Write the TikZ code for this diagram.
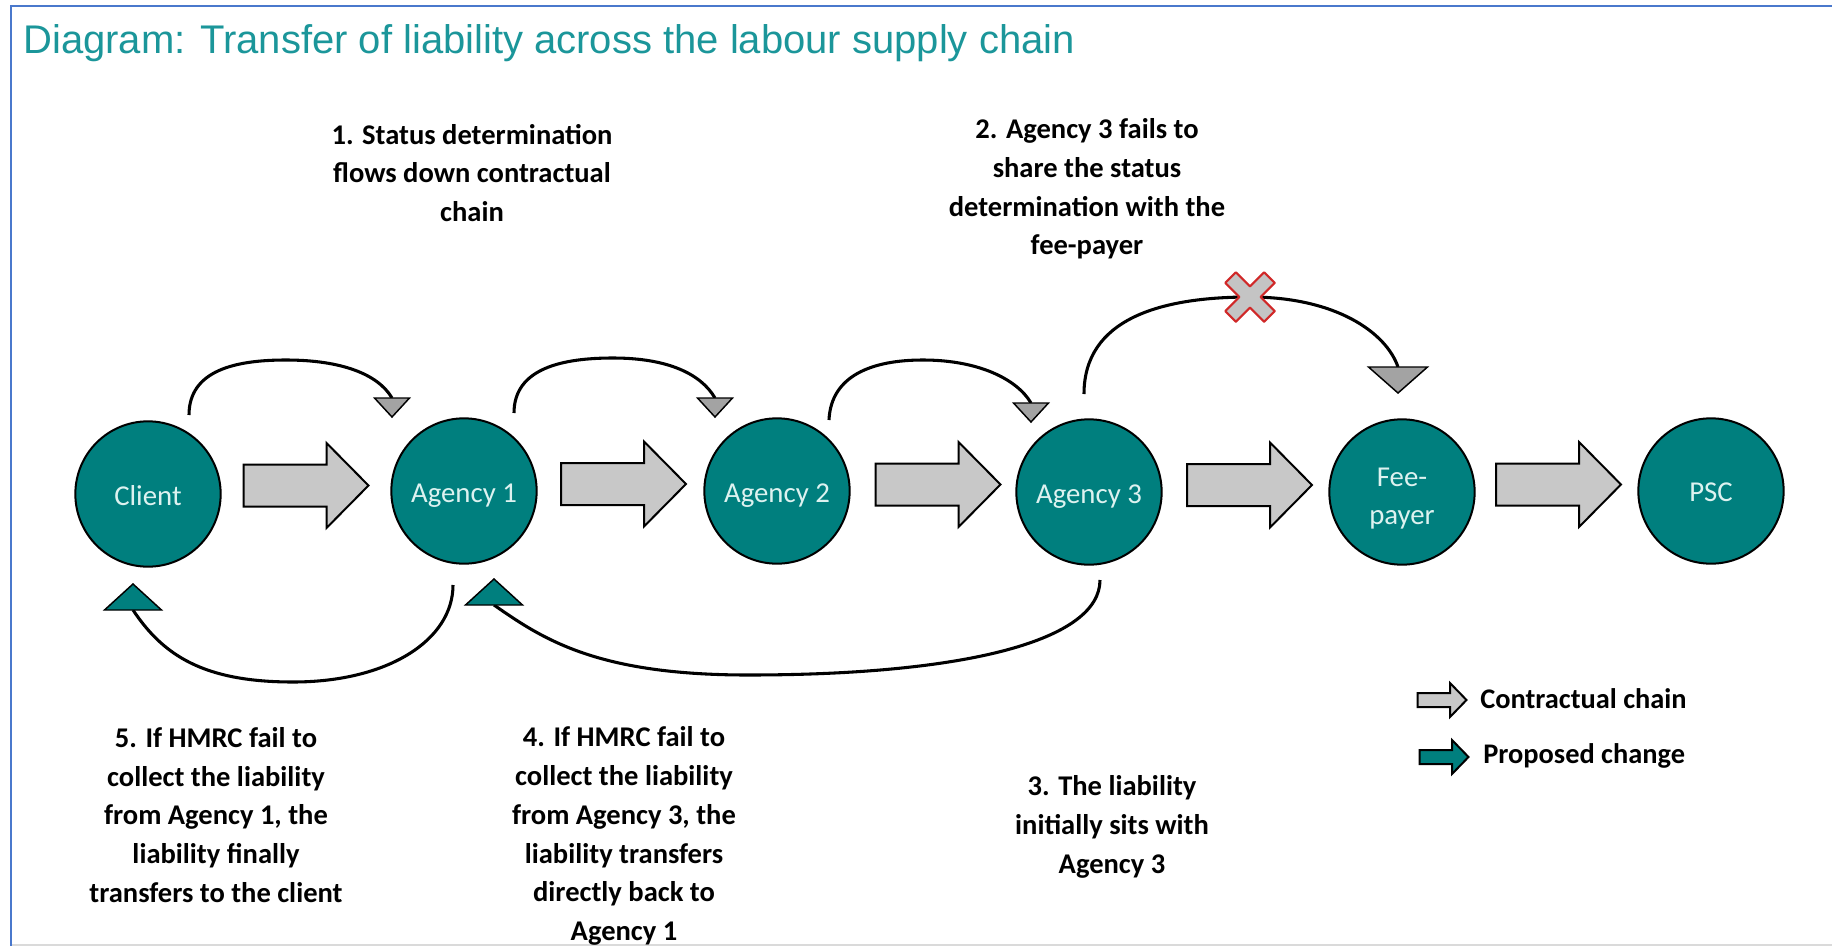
\documentclass[tikz,border=0pt]{standalone}
\usepackage{fontspec}
\setmainfont{Carlito}
\newfontfamily\titlefont{Liberation Sans}
\usetikzlibrary{calc}

\definecolor{tealfill}{HTML}{007F7E}
\definecolor{circtext}{HTML}{DDF2F0}
\definecolor{titleteal}{HTML}{1B969A}
\definecolor{chaingray}{HTML}{C8C8C8}
\definecolor{tipgray}{HTML}{A3A3A3}
\definecolor{xred}{HTML}{D02828}
\definecolor{xgray}{HTML}{C4C4C4}
\definecolor{frameblue}{HTML}{4A78CC}
\definecolor{framegray}{HTML}{DADADA}

\tikzset{
  party/.style={circle, draw=black, line width=1.5pt, fill=tealfill,
    minimum size=109pt, inner sep=0pt},
  partytext/.style={inner sep=0pt, text=circtext, align=center,
    font=\fontsize{21.6pt}{28.6pt}\selectfont},
  note/.style={align=center, inner sep=0pt, text=black,
    font=\bfseries\fontsize{21.4pt}{29.1pt}\selectfont},
  keytext/.style={anchor=west, inner sep=0pt, text=black,
    font=\bfseries\fontsize{21.3pt}{26pt}\selectfont},
  flow/.style={draw=black, line width=2.3pt},
  pics/chainarrow/.style={code={
    \draw[line width=1.5pt, fill=#1, line join=miter]
      (-62.5,-21) -- (20.5,-21) -- (20.5,-42.5) -- (62.5,0) --
      (20.5,42.5) -- (20.5,21) -- (-62.5,21) -- cycle;}},
  pics/keyarrow/.style={code={
    \draw[line width=1.5pt, fill=#1, line join=miter]
      (-24.5,-7) -- (8,-7) -- (8,-17) -- (24.5,0) --
      (8,17) -- (8,7) -- (-24.5,7) -- cycle;}},
  pics/tipdown/.style n args={3}{code={
    \draw[line width=1.1pt, fill=#1, line join=miter]
      (-#2/2,0) -- (#2/2,0) -- (0,#3) -- cycle;}},
  pics/tipup/.style n args={3}{code={
    \draw[line width=1.1pt, fill=#1, line join=miter]
      (-#2/2,0) -- (#2/2,0) -- (0,-#3) -- cycle;}},
  pics/blocked/.style={code={
    \begin{scope}[rotate=45]
      \draw[xred, line width=1.6pt, fill=xgray, line join=round]
        (7.5,27.5) -- (7.5,7.5) -- (27.5,7.5) -- (27.5,-7.5) -- (7.5,-7.5) --
        (7.5,-27.5) -- (-7.5,-27.5) -- (-7.5,-7.5) -- (-27.5,-7.5) --
        (-27.5,7.5) -- (-7.5,7.5) -- (-7.5,27.5) -- cycle;
    \end{scope}}},
}

\begin{document}
\begin{tikzpicture}[x=0.75pt, y=-0.75pt]
  \useasboundingbox (0,0) rectangle (1832,946);

  % frame
  \draw[framegray, line width=1pt] (11,945) -- (1832,945);
  \draw[frameblue, line width=2.2pt] (11,946) -- (11,6) -- (1832,6);

  % title
  \node[anchor=base west, inner sep=0pt, text=titleteal,
        font=\titlefont\fontsize{30pt}{36pt}\selectfont] (title) at (23,53)
    {Diagram: Transfer of liability across the labour supply chain};

  % parties in the supply chain
  \node[party] (client) at (148,494) {};
  \node[party] (a1)     at (464,491) {};
  \node[party] (a2)     at (777,491) {};
  \node[party] (a3)     at (1089,492) {};
  \node[party] (fee)    at (1402,492) {};
  \node[party] (psc)    at (1711,491) {};

  \node[partytext] (clientname) at ($(client)+(0,2)$) {Client};
  \node[partytext] (a1name)     at ($(a1)+(0,5)$)     {Agency 1};
  \node[partytext] (a2name)     at ($(a2)+(0,5)$)     {Agency 2};
  \node[partytext] (a3name)     at ($(a3)+(0,5)$)     {Agency 3};
  \node[partytext] (feename)    at ($(fee)+(0,7)$)    {Fee-\\payer};
  \node[partytext] (pscname)    at ($(psc)+(0,1)$)    {PSC};

  % contractual chain
  \pic at ($(client)!0.5!(a1)+(0,-7)$) {chainarrow=chaingray};
  \pic at ($(a1)!0.5!(a2)+(3,-7)$)     {chainarrow=chaingray};
  \pic at ($(a2)!0.5!(a3)+(5,-7)$)     {chainarrow=chaingray};
  \pic at ($(a3)!0.5!(fee)+(4,-7)$)    {chainarrow=chaingray};
  \pic at ($(fee)!0.5!(psc)+(2,-7)$)   {chainarrow=chaingray};

  % status determination passed down the chain
  \draw[flow] ($(client)+(41,-79)$) .. controls +(0,-45) and +(-50,0) ..
    ($(client)+(138,-134)$) .. controls +(55,0) and +(-14,-24) .. ($(a1)+(-72,-93)$);
  \pic at ($(a1)+(-72,-93)$) {tipdown={tipgray}{35}{19}};

  \draw[flow] ($(a1)+(50,-78)$) .. controls +(0,-45) and +(-50,0) ..
    ($(a1)+(149,-133)$) .. controls +(55,0) and +(-14,-24) .. ($(a2)+(-62,-93)$);
  \pic at ($(a2)+(-62,-93)$) {tipdown={tipgray}{35}{19}};

  \draw[flow] ($(a2)+(52,-71)$) .. controls +(2,-45) and +(-50,0) ..
    ($(a2)+(146,-131)$) .. controls +(55,0) and +(-14,-24) .. ($(a3)+(-58,-89)$);
  \pic at ($(a3)+(-58,-89)$) {tipdown={tipgray}{35}{19}};

  % determination not shared with the fee-payer
  \draw[flow] ($(a3)+(-5,-98)$) .. controls +(0,-75) and +(-90,0) ..
    ($(a3)+(161,-195)$) .. controls +(85,0) and +(-12,-35) .. ($(fee)+(-4,-125)$);
  \pic at ($(fee)+(-4,-125)$) {tipdown={tipgray}{59}{26}};
  \pic at ($(a3)+(161,-195)$) {blocked};

  % liability transfers back up the chain
  \draw[flow] ($(a1)+(-11,94)$) .. controls +(0,55) and +(95,0) ..
    ($(a1)+(-171,191)$) .. controls +(-90,0) and +(30,45) .. ($(client)+(-15,116)$);
  \pic at ($(client)+(-15,116)$) {tipup={tealfill}{57}{26}};

  \draw[flow] ($(a3)+(11,88)$) .. controls +(0,60) and +(220,0) ..
    ($(a1)+(284,184)$) .. controls +(-150,0) and +(50,35) .. ($(a1)+(30,114)$);
  \pic at ($(a1)+(30,114)$) {tipup={tealfill}{57}{26}};

  % explanatory notes
  \node[note] (n1) at (472,173)
    {1. Status determination\\flows down contractual\\chain};
  \node[note] (n2) at (1087,189)
    {2. Agency 3 fails to\\share the status\\determination with the\\fee-payer};
  \node[note] (n3) at (1112,827)
    {3. The liability\\initially sits with\\Agency 3};
  \node[note] (n4) at (624,836)
    {4. If HMRC fail to\\collect the liability\\from Agency 3, the\\liability transfers\\directly back to\\Agency 1};
  \node[note] (n5) at (216,815)
    {5. If HMRC fail to\\collect the liability\\from Agency 1, the\\liability finally\\transfers to the client};

  % key
  \pic at (1442,700) {keyarrow=chaingray};
  \node[keytext] (k1) at (1480,699) {Contractual chain};
  \pic at (1444,757) {keyarrow=tealfill};
  \node[keytext] (k2) at (1483,756) {Proposed change};
\end{tikzpicture}
\end{document}
